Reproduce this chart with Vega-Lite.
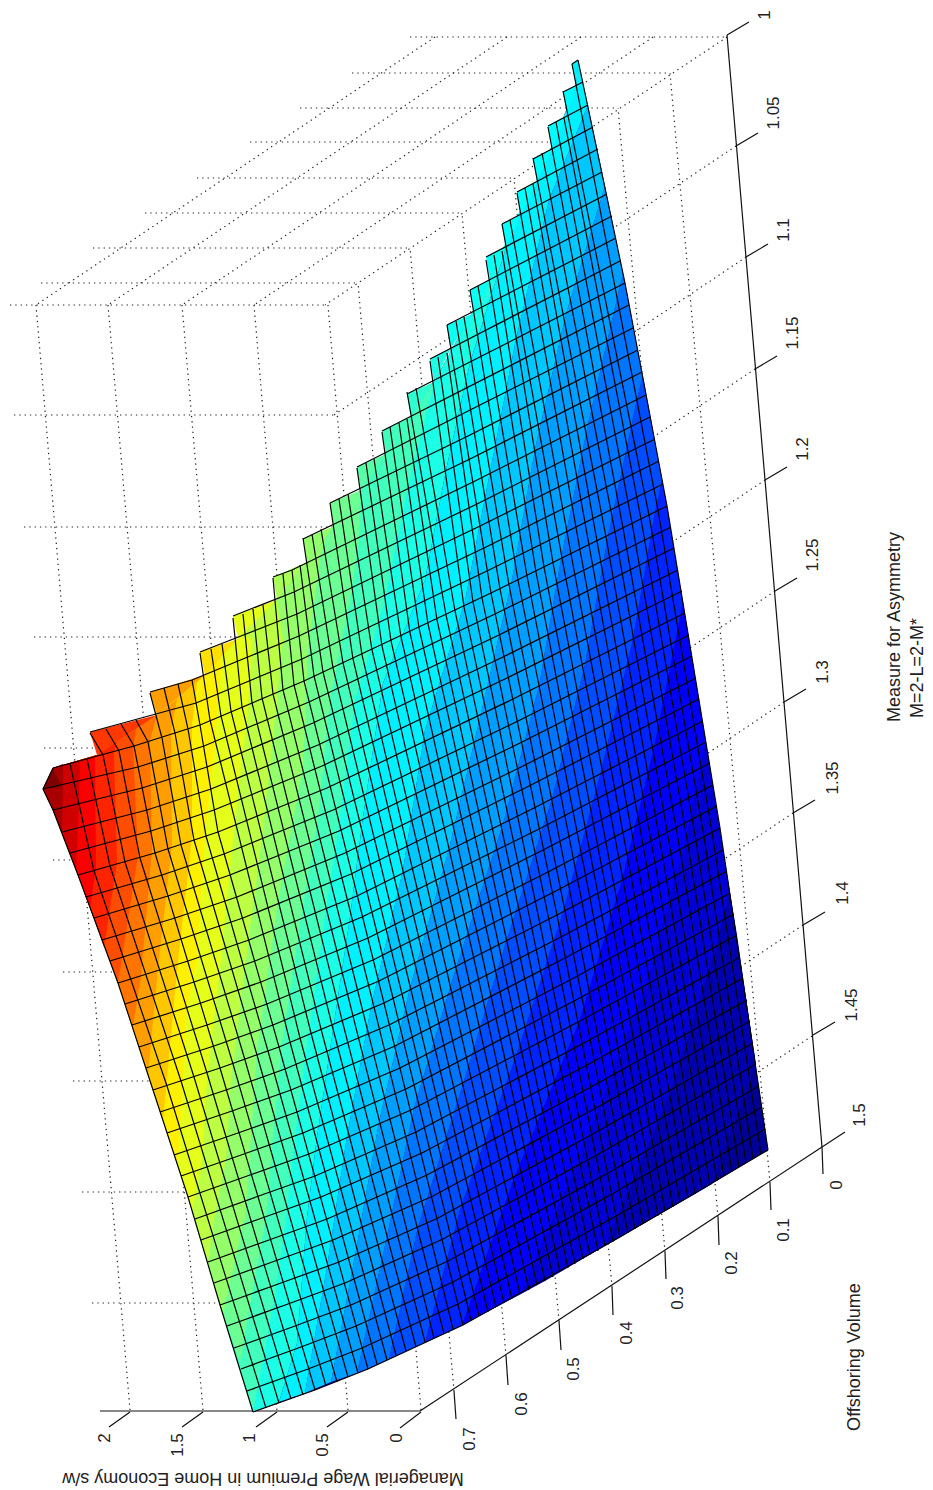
{"$schema":"https://vega.github.io/schema/vega-lite/v6.json","width":933,"height":1490,"padding":0,"autosize":"none","background":"white","config":{"view":{"stroke":null}},
"encoding":{"x":{"field":"x","type":"quantitative","axis":null,"scale":{"domain":[0,933],"range":[0,933]}},"y":{"field":"y","type":"quantitative","axis":null,"scale":{"domain":[0,1490],"range":[0,1490]}}},
"datasets":{
"dots":[
{"g":1,"x":410,"y":37},{"g":1,"x":727,"y":37},{"g":2,"x":352,"y":73},{"g":2,"x":670,"y":73},{"g":3,"x":300,"y":108},{"g":3,"x":618,"y":108},{"g":4,"x":250,"y":142},{"g":4,"x":568,"y":142},{"g":5,"x":197,"y":178},{"g":5,"x":514,"y":178},{"g":6,"x":145,"y":213},{"g":6,"x":462,"y":213},{"g":7,"x":93,"y":248},{"g":7,"x":410,"y":248},{"g":8,"x":41,"y":283},{"g":8,"x":358,"y":283},{"g":9,"x":10,"y":305},{"g":9,"x":325,"y":305},
{"g":10,"x":653,"y":37},{"g":10,"x":254,"y":305},{"g":11,"x":581,"y":37},{"g":11,"x":182,"y":305},{"g":12,"x":507,"y":37},{"g":12,"x":108,"y":305},{"g":13,"x":435,"y":37},{"g":13,"x":36,"y":305},
{"g":14,"x":328,"y":305},{"g":14,"x":421,"y":1410},{"g":15,"x":254,"y":305},{"g":15,"x":348,"y":1410},{"g":16,"x":182,"y":305},{"g":16,"x":277,"y":1410},{"g":17,"x":108,"y":305},{"g":17,"x":203,"y":1410},{"g":18,"x":36,"y":305},{"g":18,"x":130,"y":1410},
{"g":19,"x":14,"y":415},{"g":19,"x":334,"y":415},{"g":20,"x":24,"y":527},{"g":20,"x":344,"y":527},{"g":21,"x":34,"y":637},{"g":21,"x":354,"y":637},{"g":22,"x":44,"y":748},{"g":22,"x":364,"y":748},{"g":23,"x":53,"y":860},{"g":23,"x":373,"y":860},{"g":24,"x":63,"y":972},{"g":24,"x":383,"y":972},{"g":25,"x":73,"y":1081},{"g":25,"x":393,"y":1081},{"g":26,"x":82,"y":1192},{"g":26,"x":402,"y":1192},{"g":27,"x":92,"y":1303},{"g":27,"x":412,"y":1303},
{"g":28,"x":770,"y":1183},{"g":28,"x":670,"y":73},{"g":29,"x":718,"y":1217},{"g":29,"x":618,"y":108},{"g":30,"x":665,"y":1252},{"g":30,"x":568,"y":142},{"g":31,"x":612,"y":1287},{"g":31,"x":514,"y":178},{"g":32,"x":559,"y":1321},{"g":32,"x":462,"y":213},{"g":33,"x":506,"y":1356},{"g":33,"x":410,"y":248},{"g":34,"x":454,"y":1391},{"g":34,"x":358,"y":283},
{"g":35,"x":736,"y":146},{"g":35,"x":334,"y":415},{"g":36,"x":746,"y":257},{"g":36,"x":344,"y":527},{"g":37,"x":755,"y":369},{"g":37,"x":354,"y":637},{"g":38,"x":765,"y":480},{"g":38,"x":364,"y":748},{"g":39,"x":775,"y":591},{"g":39,"x":373,"y":860},{"g":40,"x":784,"y":702},{"g":40,"x":383,"y":972},{"g":41,"x":793,"y":813},{"g":41,"x":393,"y":1081},{"g":42,"x":803,"y":925},{"g":42,"x":402,"y":1192},{"g":43,"x":812,"y":1036},{"g":43,"x":412,"y":1303},{"g":44,"x":727,"y":37},{"g":44,"x":325,"y":305}],
"axes":[
{"g":1,"x":727,"y":35},{"g":1,"x":822,"y":1147},{"g":2,"x":822,"y":1147},{"g":2,"x":420,"y":1411},{"g":3,"x":420,"y":1411},{"g":3,"x":100,"y":1411},
{"g":4,"x":727,"y":35},{"g":4,"x":749,"y":22},{"g":5,"x":736,"y":146},{"g":5,"x":758,"y":133},{"g":6,"x":746,"y":257},{"g":6,"x":768,"y":244},{"g":7,"x":755,"y":369},{"g":7,"x":777,"y":356},{"g":8,"x":765,"y":480},{"g":8,"x":787,"y":467},{"g":9,"x":775,"y":591},{"g":9,"x":797,"y":578},{"g":10,"x":784,"y":702},{"g":10,"x":806,"y":689},{"g":11,"x":793,"y":813},{"g":11,"x":815,"y":800},{"g":12,"x":803,"y":925},{"g":12,"x":825,"y":912},{"g":13,"x":813,"y":1035},{"g":13,"x":835,"y":1022},{"g":14,"x":822,"y":1147},{"g":14,"x":845,"y":1132},
{"g":15,"x":822,"y":1147},{"g":15,"x":823,"y":1174},{"g":16,"x":770,"y":1183},{"g":16,"x":771,"y":1210},{"g":17,"x":718,"y":1217},{"g":17,"x":719,"y":1245},{"g":18,"x":665,"y":1252},{"g":18,"x":666,"y":1279},{"g":19,"x":612,"y":1287},{"g":19,"x":613,"y":1315},{"g":20,"x":559,"y":1321},{"g":20,"x":561,"y":1350},{"g":21,"x":506,"y":1356},{"g":21,"x":508,"y":1385},{"g":22,"x":454,"y":1391},{"g":22,"x":456,"y":1419},
{"g":23,"x":421,"y":1412},{"g":23,"x":400,"y":1428},{"g":24,"x":348,"y":1412},{"g":24,"x":327,"y":1427},{"g":25,"x":277,"y":1412},{"g":25,"x":256,"y":1427},{"g":26,"x":203,"y":1412},{"g":26,"x":182,"y":1427},{"g":27,"x":130,"y":1412},{"g":27,"x":109,"y":1427}],
"bands":[
{"c":"#000098","x":768,"y":1150},{"c":"#000098","x":737,"y":935},{"c":"#000098","x":667,"y":506},{"c":"#000098","x":625,"y":283},{"c":"#000098","x":602,"y":172},{"c":"#000098","x":578,"y":60},{"c":"#000098","x":576,"y":86},{"c":"#000098","x":537,"y":182},{"c":"#000098","x":490,"y":280},{"c":"#000098","x":434,"y":382},{"c":"#000098","x":361,"y":490},{"c":"#000098","x":307,"y":562},{"c":"#000098","x":277,"y":600},{"c":"#000098","x":238,"y":639},{"c":"#000098","x":205,"y":675},{"c":"#000098","x":157,"y":715},{"c":"#000098","x":97,"y":755},{"c":"#000098","x":53,"y":768},{"c":"#000098","x":43,"y":789},{"c":"#000098","x":53,"y":810},{"c":"#000098","x":78,"y":875},{"c":"#000098","x":118,"y":983},{"c":"#000098","x":153,"y":1090},{"c":"#000098","x":188,"y":1197},{"c":"#000098","x":220,"y":1305},{"c":"#000098","x":253,"y":1412},{"c":"#000098","x":315,"y":1390},{"c":"#000098","x":368,"y":1369},{"c":"#000098","x":463,"y":1325},{"c":"#000098","x":545,"y":1281},{"c":"#000098","x":620,"y":1237},{"c":"#000098","x":695,"y":1194},
{"c":"#0000B3","x":756,"y":1064},{"c":"#0000B3","x":712,"y":1184},{"c":"#0000B3","x":605,"y":1246},{"c":"#0000B3","x":671,"y":1090},{"c":"#0000B3","x":716,"y":947},{"c":"#0000B3","x":730,"y":893},
{"c":"#0000D7","x":730,"y":893},{"c":"#0000D7","x":716,"y":947},{"c":"#0000D7","x":671,"y":1090},{"c":"#0000D7","x":605,"y":1246},{"c":"#0000D7","x":521,"y":1294},{"c":"#0000D7","x":588,"y":1137},{"c":"#0000D7","x":646,"y":985},{"c":"#0000D7","x":684,"y":847},{"c":"#0000D7","x":706,"y":742},
{"c":"#0000FA","x":706,"y":742},{"c":"#0000FA","x":684,"y":847},{"c":"#0000FA","x":646,"y":985},{"c":"#0000FA","x":588,"y":1137},{"c":"#0000FA","x":521,"y":1294},{"c":"#0000FA","x":462,"y":1325},{"c":"#0000FA","x":514,"y":1178},{"c":"#0000FA","x":579,"y":1022},{"c":"#0000FA","x":622,"y":880},{"c":"#0000FA","x":654,"y":747},{"c":"#0000FA","x":683,"y":602},
{"c":"#0024FF","x":683,"y":602},{"c":"#0024FF","x":654,"y":747},{"c":"#0024FF","x":622,"y":880},{"c":"#0024FF","x":579,"y":1022},{"c":"#0024FF","x":514,"y":1178},{"c":"#0024FF","x":462,"y":1325},{"c":"#0024FF","x":425,"y":1342},{"c":"#0024FF","x":461,"y":1206},{"c":"#0024FF","x":516,"y":1056},{"c":"#0024FF","x":563,"y":912},{"c":"#0024FF","x":600,"y":775},{"c":"#0024FF","x":633,"y":639},{"c":"#0024FF","x":655,"y":512},{"c":"#0024FF","x":662,"y":480},
{"c":"#004DFF","x":662,"y":480},{"c":"#004DFF","x":655,"y":512},{"c":"#004DFF","x":633,"y":639},{"c":"#004DFF","x":600,"y":775},{"c":"#004DFF","x":563,"y":912},{"c":"#004DFF","x":516,"y":1056},{"c":"#004DFF","x":461,"y":1206},{"c":"#004DFF","x":425,"y":1342},{"c":"#004DFF","x":389,"y":1359},{"c":"#004DFF","x":418,"y":1227},{"c":"#004DFF","x":463,"y":1084},{"c":"#004DFF","x":506,"y":942},{"c":"#004DFF","x":552,"y":799},{"c":"#004DFF","x":585,"y":664},{"c":"#004DFF","x":608,"y":536},{"c":"#004DFF","x":637,"y":399},{"c":"#004DFF","x":643,"y":376},
{"c":"#0075FF","x":643,"y":376},{"c":"#0075FF","x":637,"y":399},{"c":"#0075FF","x":608,"y":536},{"c":"#0075FF","x":585,"y":664},{"c":"#0075FF","x":552,"y":799},{"c":"#0075FF","x":506,"y":942},{"c":"#0075FF","x":463,"y":1084},{"c":"#0075FF","x":418,"y":1227},{"c":"#0075FF","x":389,"y":1359},{"c":"#0075FF","x":357,"y":1373},{"c":"#0075FF","x":386,"y":1241},{"c":"#0075FF","x":414,"y":1108},{"c":"#0075FF","x":456,"y":968},{"c":"#0075FF","x":503,"y":824},{"c":"#0075FF","x":539,"y":686},{"c":"#0075FF","x":561,"y":559},{"c":"#0075FF","x":588,"y":424},{"c":"#0075FF","x":620,"y":286},{"c":"#0075FF","x":623,"y":275},
{"c":"#009EFF","x":623,"y":275},{"c":"#009EFF","x":620,"y":286},{"c":"#009EFF","x":588,"y":424},{"c":"#009EFF","x":561,"y":559},{"c":"#009EFF","x":539,"y":686},{"c":"#009EFF","x":503,"y":824},{"c":"#009EFF","x":456,"y":968},{"c":"#009EFF","x":414,"y":1108},{"c":"#009EFF","x":386,"y":1241},{"c":"#009EFF","x":357,"y":1373},{"c":"#009EFF","x":331,"y":1382},{"c":"#009EFF","x":355,"y":1256},{"c":"#009EFF","x":379,"y":1122},{"c":"#009EFF","x":410,"y":988},{"c":"#009EFF","x":449,"y":849},{"c":"#009EFF","x":482,"y":709},{"c":"#009EFF","x":512,"y":580},{"c":"#009EFF","x":535,"y":449},{"c":"#009EFF","x":566,"y":314},{"c":"#009EFF","x":605,"y":186},
{"c":"#00C7FF","x":605,"y":186},{"c":"#00C7FF","x":566,"y":314},{"c":"#00C7FF","x":535,"y":449},{"c":"#00C7FF","x":512,"y":580},{"c":"#00C7FF","x":482,"y":709},{"c":"#00C7FF","x":449,"y":849},{"c":"#00C7FF","x":410,"y":988},{"c":"#00C7FF","x":379,"y":1122},{"c":"#00C7FF","x":355,"y":1256},{"c":"#00C7FF","x":331,"y":1382},{"c":"#00C7FF","x":305,"y":1393},{"c":"#00C7FF","x":327,"y":1267},{"c":"#00C7FF","x":347,"y":1136},{"c":"#00C7FF","x":371,"y":1007},{"c":"#00C7FF","x":403,"y":870},{"c":"#00C7FF","x":425,"y":730},{"c":"#00C7FF","x":465,"y":601},{"c":"#00C7FF","x":490,"y":472},{"c":"#00C7FF","x":516,"y":339},{"c":"#00C7FF","x":549,"y":200},{"c":"#00C7FF","x":588,"y":105},
{"c":"#00F0FF","x":588,"y":105},{"c":"#00F0FF","x":549,"y":200},{"c":"#00F0FF","x":516,"y":339},{"c":"#00F0FF","x":490,"y":472},{"c":"#00F0FF","x":465,"y":601},{"c":"#00F0FF","x":425,"y":730},{"c":"#00F0FF","x":403,"y":870},{"c":"#00F0FF","x":371,"y":1007},{"c":"#00F0FF","x":347,"y":1136},{"c":"#00F0FF","x":327,"y":1267},{"c":"#00F0FF","x":305,"y":1393},{"c":"#00F0FF","x":279,"y":1402},{"c":"#00F0FF","x":297,"y":1343},{"c":"#00F0FF","x":307,"y":1217},{"c":"#00F0FF","x":317,"y":1137},{"c":"#00F0FF","x":330,"y":1050},{"c":"#00F0FF","x":350,"y":917},{"c":"#00F0FF","x":363,"y":817},{"c":"#00F0FF","x":383,"y":683},{"c":"#00F0FF","x":425,"y":580},{"c":"#00F0FF","x":446,"y":470},{"c":"#00F0FF","x":470,"y":363},{"c":"#00F0FF","x":515,"y":219},{"c":"#00F0FF","x":537,"y":182},{"c":"#00F0FF","x":576,"y":86},{"c":"#00F0FF","x":578,"y":60},
{"c":"#1AFFE6","x":515,"y":219},{"c":"#1AFFE6","x":490,"y":280},{"c":"#1AFFE6","x":434,"y":382},{"c":"#1AFFE6","x":361,"y":490},{"c":"#1AFFE6","x":307,"y":562},{"c":"#1AFFE6","x":277,"y":600},{"c":"#1AFFE6","x":238,"y":639},{"c":"#1AFFE6","x":205,"y":675},{"c":"#1AFFE6","x":157,"y":715},{"c":"#1AFFE6","x":97,"y":755},{"c":"#1AFFE6","x":53,"y":768},{"c":"#1AFFE6","x":43,"y":789},{"c":"#1AFFE6","x":53,"y":810},{"c":"#1AFFE6","x":78,"y":875},{"c":"#1AFFE6","x":118,"y":983},{"c":"#1AFFE6","x":153,"y":1090},{"c":"#1AFFE6","x":188,"y":1197},{"c":"#1AFFE6","x":220,"y":1305},{"c":"#1AFFE6","x":253,"y":1412},{"c":"#1AFFE6","x":279,"y":1402},{"c":"#1AFFE6","x":297,"y":1343},{"c":"#1AFFE6","x":307,"y":1217},{"c":"#1AFFE6","x":317,"y":1137},{"c":"#1AFFE6","x":330,"y":1050},{"c":"#1AFFE6","x":350,"y":917},{"c":"#1AFFE6","x":363,"y":817},{"c":"#1AFFE6","x":383,"y":683},{"c":"#1AFFE6","x":425,"y":580},{"c":"#1AFFE6","x":446,"y":470},{"c":"#1AFFE6","x":470,"y":363},
{"c":"#42FFBD","x":434,"y":382},{"c":"#42FFBD","x":361,"y":490},{"c":"#42FFBD","x":307,"y":562},{"c":"#42FFBD","x":277,"y":600},{"c":"#42FFBD","x":238,"y":639},{"c":"#42FFBD","x":205,"y":675},{"c":"#42FFBD","x":157,"y":715},{"c":"#42FFBD","x":97,"y":755},{"c":"#42FFBD","x":53,"y":768},{"c":"#42FFBD","x":43,"y":789},{"c":"#42FFBD","x":53,"y":810},{"c":"#42FFBD","x":78,"y":875},{"c":"#42FFBD","x":118,"y":983},{"c":"#42FFBD","x":153,"y":1090},{"c":"#42FFBD","x":188,"y":1197},{"c":"#42FFBD","x":220,"y":1305},{"c":"#42FFBD","x":253,"y":1412},{"c":"#42FFBD","x":276,"y":1290},{"c":"#42FFBD","x":286,"y":1217},{"c":"#42FFBD","x":295,"y":1137},{"c":"#42FFBD","x":306,"y":1050},{"c":"#42FFBD","x":325,"y":917},{"c":"#42FFBD","x":340,"y":817},{"c":"#42FFBD","x":355,"y":700},{"c":"#42FFBD","x":385,"y":600},{"c":"#42FFBD","x":405,"y":500},
{"c":"#6BFF94","x":361,"y":490},{"c":"#6BFF94","x":307,"y":562},{"c":"#6BFF94","x":277,"y":600},{"c":"#6BFF94","x":238,"y":639},{"c":"#6BFF94","x":205,"y":675},{"c":"#6BFF94","x":157,"y":715},{"c":"#6BFF94","x":97,"y":755},{"c":"#6BFF94","x":53,"y":768},{"c":"#6BFF94","x":43,"y":789},{"c":"#6BFF94","x":53,"y":810},{"c":"#6BFF94","x":78,"y":875},{"c":"#6BFF94","x":118,"y":983},{"c":"#6BFF94","x":153,"y":1090},{"c":"#6BFF94","x":188,"y":1197},{"c":"#6BFF94","x":220,"y":1305},{"c":"#6BFF94","x":240,"y":1362},{"c":"#6BFF94","x":251,"y":1300},{"c":"#6BFF94","x":266,"y":1217},{"c":"#6BFF94","x":273,"y":1137},{"c":"#6BFF94","x":281,"y":1050},{"c":"#6BFF94","x":301,"y":917},{"c":"#6BFF94","x":318,"y":817},{"c":"#6BFF94","x":330,"y":700},{"c":"#6BFF94","x":350,"y":600},{"c":"#6BFF94","x":359,"y":539},
{"c":"#94FF6B","x":326,"y":538},{"c":"#94FF6B","x":307,"y":562},{"c":"#94FF6B","x":277,"y":600},{"c":"#94FF6B","x":238,"y":639},{"c":"#94FF6B","x":205,"y":675},{"c":"#94FF6B","x":157,"y":715},{"c":"#94FF6B","x":97,"y":755},{"c":"#94FF6B","x":53,"y":768},{"c":"#94FF6B","x":43,"y":789},{"c":"#94FF6B","x":53,"y":810},{"c":"#94FF6B","x":78,"y":875},{"c":"#94FF6B","x":118,"y":983},{"c":"#94FF6B","x":153,"y":1090},{"c":"#94FF6B","x":188,"y":1197},{"c":"#94FF6B","x":220,"y":1305},{"c":"#94FF6B","x":223,"y":1313},{"c":"#94FF6B","x":245,"y":1217},{"c":"#94FF6B","x":250,"y":1150},{"c":"#94FF6B","x":257,"y":1050},{"c":"#94FF6B","x":278,"y":900},{"c":"#94FF6B","x":303,"y":767},{"c":"#94FF6B","x":308,"y":650},{"c":"#94FF6B","x":320,"y":557},
{"c":"#BDFF42","x":277,"y":600},{"c":"#BDFF42","x":238,"y":639},{"c":"#BDFF42","x":205,"y":675},{"c":"#BDFF42","x":157,"y":715},{"c":"#BDFF42","x":97,"y":755},{"c":"#BDFF42","x":53,"y":768},{"c":"#BDFF42","x":43,"y":789},{"c":"#BDFF42","x":53,"y":810},{"c":"#BDFF42","x":78,"y":875},{"c":"#BDFF42","x":118,"y":983},{"c":"#BDFF42","x":153,"y":1090},{"c":"#BDFF42","x":188,"y":1197},{"c":"#BDFF42","x":208,"y":1262},{"c":"#BDFF42","x":215,"y":1215},{"c":"#BDFF42","x":226,"y":1160},{"c":"#BDFF42","x":231,"y":1080},{"c":"#BDFF42","x":246,"y":960},{"c":"#BDFF42","x":263,"y":830},{"c":"#BDFF42","x":277,"y":700},{"c":"#BDFF42","x":283,"y":640},
{"c":"#E6FF1A","x":243,"y":634},{"c":"#E6FF1A","x":205,"y":675},{"c":"#E6FF1A","x":157,"y":715},{"c":"#E6FF1A","x":97,"y":755},{"c":"#E6FF1A","x":53,"y":768},{"c":"#E6FF1A","x":43,"y":789},{"c":"#E6FF1A","x":53,"y":810},{"c":"#E6FF1A","x":78,"y":875},{"c":"#E6FF1A","x":118,"y":983},{"c":"#E6FF1A","x":153,"y":1090},{"c":"#E6FF1A","x":188,"y":1197},{"c":"#E6FF1A","x":192,"y":1210},{"c":"#E6FF1A","x":202,"y":1160},{"c":"#E6FF1A","x":207,"y":1080},{"c":"#E6FF1A","x":221,"y":960},{"c":"#E6FF1A","x":234,"y":830},{"c":"#E6FF1A","x":249,"y":700},{"c":"#E6FF1A","x":252,"y":640},
{"c":"#FFF000","x":222,"y":657},{"c":"#FFF000","x":205,"y":675},{"c":"#FFF000","x":157,"y":715},{"c":"#FFF000","x":97,"y":755},{"c":"#FFF000","x":53,"y":768},{"c":"#FFF000","x":43,"y":789},{"c":"#FFF000","x":53,"y":810},{"c":"#FFF000","x":78,"y":875},{"c":"#FFF000","x":118,"y":983},{"c":"#FFF000","x":153,"y":1090},{"c":"#FFF000","x":178,"y":1166},{"c":"#FFF000","x":180,"y":1127},{"c":"#FFF000","x":183,"y":1083},{"c":"#FFF000","x":187,"y":1007},{"c":"#FFF000","x":197,"y":960},{"c":"#FFF000","x":205,"y":833},{"c":"#FFF000","x":213,"y":767},{"c":"#FFF000","x":217,"y":717},
{"c":"#FFC700","x":197,"y":682},{"c":"#FFC700","x":157,"y":715},{"c":"#FFC700","x":97,"y":755},{"c":"#FFC700","x":53,"y":768},{"c":"#FFC700","x":43,"y":789},{"c":"#FFC700","x":53,"y":810},{"c":"#FFC700","x":78,"y":875},{"c":"#FFC700","x":118,"y":983},{"c":"#FFC700","x":153,"y":1090},{"c":"#FFC700","x":163,"y":1120},{"c":"#FFC700","x":178,"y":961},{"c":"#FFC700","x":192,"y":837},{"c":"#FFC700","x":192,"y":725},
{"c":"#FF9E00","x":177,"y":699},{"c":"#FF9E00","x":157,"y":715},{"c":"#FF9E00","x":97,"y":755},{"c":"#FF9E00","x":53,"y":768},{"c":"#FF9E00","x":43,"y":789},{"c":"#FF9E00","x":53,"y":810},{"c":"#FF9E00","x":78,"y":875},{"c":"#FF9E00","x":118,"y":983},{"c":"#FF9E00","x":148,"y":1074},{"c":"#FF9E00","x":158,"y":968},{"c":"#FF9E00","x":172,"y":844},{"c":"#FF9E00","x":171,"y":732},
{"c":"#FF7500","x":157,"y":715},{"c":"#FF7500","x":97,"y":755},{"c":"#FF7500","x":53,"y":768},{"c":"#FF7500","x":43,"y":789},{"c":"#FF7500","x":53,"y":810},{"c":"#FF7500","x":78,"y":875},{"c":"#FF7500","x":118,"y":983},{"c":"#FF7500","x":133,"y":1027},{"c":"#FF7500","x":141,"y":976},{"c":"#FF7500","x":152,"y":850},{"c":"#FF7500","x":150,"y":740},
{"c":"#FF4D00","x":136,"y":729},{"c":"#FF4D00","x":97,"y":755},{"c":"#FF4D00","x":53,"y":768},{"c":"#FF4D00","x":43,"y":789},{"c":"#FF4D00","x":53,"y":810},{"c":"#FF4D00","x":78,"y":875},{"c":"#FF4D00","x":118,"y":983},{"c":"#FF4D00","x":138,"y":856},{"c":"#FF4D00","x":133,"y":747},
{"c":"#FF2400","x":117,"y":741},{"c":"#FF2400","x":97,"y":755},{"c":"#FF2400","x":53,"y":768},{"c":"#FF2400","x":43,"y":789},{"c":"#FF2400","x":53,"y":810},{"c":"#FF2400","x":78,"y":875},{"c":"#FF2400","x":104,"y":947},{"c":"#FF2400","x":117,"y":863},{"c":"#FF2400","x":114,"y":752},
{"c":"#FA0000","x":97,"y":755},{"c":"#FA0000","x":53,"y":768},{"c":"#FA0000","x":43,"y":789},{"c":"#FA0000","x":53,"y":810},{"c":"#FA0000","x":78,"y":875},{"c":"#FA0000","x":90,"y":908},{"c":"#FA0000","x":96,"y":869},{"c":"#FA0000","x":95,"y":757},
{"c":"#D10000","x":80,"y":760},{"c":"#D10000","x":53,"y":768},{"c":"#D10000","x":43,"y":789},{"c":"#D10000","x":53,"y":810},{"c":"#D10000","x":62,"y":832},{"c":"#D10000","x":70,"y":854},{"c":"#D10000","x":76,"y":870},{"c":"#D10000","x":79,"y":805},
{"c":"#A80000","x":63,"y":764},{"c":"#A80000","x":53,"y":768},{"c":"#A80000","x":43,"y":789},{"c":"#A80000","x":53,"y":810},{"c":"#A80000","x":62,"y":832},{"c":"#A80000","x":63,"y":786},
{"c":"#800000","x":53,"y":768},{"c":"#800000","x":43,"y":789},{"c":"#800000","x":62,"y":787}],
"teeth":[
{"g":0,"c":"#00F0FF","x":578,"y":60},{"g":0,"c":"#00F0FF","x":572,"y":64},{"g":0,"c":"#00F0FF","x":576,"y":86},
{"g":1,"c":"#00FAFF","x":576,"y":86},{"g":1,"c":"#00FAFF","x":563,"y":92},{"g":1,"c":"#00FAFF","x":567,"y":115},
{"g":2,"c":"#00FFFF","x":567,"y":115},{"g":2,"c":"#00FFFF","x":548,"y":126},{"g":2,"c":"#00FFFF","x":552,"y":149},
{"g":3,"c":"#00FFFF","x":552,"y":149},{"g":3,"c":"#00FFFF","x":533,"y":159},{"g":3,"c":"#00FFFF","x":537,"y":182},
{"g":4,"c":"#05FFFA","x":537,"y":182},{"g":4,"c":"#05FFFA","x":517,"y":192},{"g":4,"c":"#05FFFA","x":521,"y":215},
{"g":5,"c":"#05FFFA","x":521,"y":215},{"g":5,"c":"#05FFFA","x":502,"y":224},{"g":5,"c":"#05FFFA","x":506,"y":247},
{"g":6,"c":"#0AFFF5","x":506,"y":247},{"g":6,"c":"#0AFFF5","x":486,"y":257},{"g":6,"c":"#0AFFF5","x":490,"y":280},
{"g":7,"c":"#0CFFF3","x":490,"y":280},{"g":7,"c":"#0CFFF3","x":470,"y":290},{"g":7,"c":"#0CFFF3","x":474,"y":313},
{"g":8,"c":"#0FFFF0","x":474,"y":313},{"g":8,"c":"#0FFFF0","x":447,"y":325},{"g":8,"c":"#0FFFF0","x":451,"y":348},
{"g":9,"c":"#1AFFE6","x":451,"y":348},{"g":9,"c":"#1AFFE6","x":430,"y":359},{"g":9,"c":"#1AFFE6","x":434,"y":382},
{"g":10,"c":"#2EFFD1","x":434,"y":382},{"g":10,"c":"#2EFFD1","x":407,"y":394},{"g":10,"c":"#2EFFD1","x":411,"y":417},
{"g":11,"c":"#42FFBD","x":411,"y":417},{"g":11,"c":"#42FFBD","x":382,"y":431},{"g":11,"c":"#42FFBD","x":386,"y":454},
{"g":12,"c":"#57FFA8","x":386,"y":454},{"g":12,"c":"#57FFA8","x":357,"y":467},{"g":12,"c":"#57FFA8","x":361,"y":490},
{"g":13,"c":"#70FF8F","x":361,"y":490},{"g":13,"c":"#70FF8F","x":330,"y":503},{"g":13,"c":"#70FF8F","x":334,"y":526},
{"g":14,"c":"#94FF6B","x":334,"y":526},{"g":14,"c":"#94FF6B","x":303,"y":539},{"g":14,"c":"#94FF6B","x":307,"y":562},
{"g":15,"c":"#A8FF57","x":307,"y":562},{"g":15,"c":"#A8FF57","x":273,"y":577},{"g":15,"c":"#A8FF57","x":277,"y":600},
{"g":16,"c":"#E6FF1A","x":277,"y":600},{"g":16,"c":"#E6FF1A","x":233,"y":616},{"g":16,"c":"#E6FF1A","x":238,"y":639},
{"g":17,"c":"#FFE000","x":238,"y":639},{"g":17,"c":"#FFE000","x":200,"y":652},{"g":17,"c":"#FFE000","x":205,"y":675},
{"g":18,"c":"#FF9E00","x":205,"y":675},{"g":18,"c":"#FF9E00","x":150,"y":692},{"g":18,"c":"#FF9E00","x":157,"y":715},
{"g":19,"c":"#FF3800","x":157,"y":715},{"g":19,"c":"#FF3800","x":90,"y":732},{"g":19,"c":"#FF3800","x":97,"y":755}],
"grid":[
{"g":0,"x":578,"y":60},{"g":0,"x":572,"y":64},{"g":1,"x":583,"y":82},{"g":1,"x":563,"y":92},{"g":2,"x":588,"y":105},{"g":2,"x":548,"y":126},{"g":3,"x":593,"y":127},{"g":3,"x":533,"y":159},{"g":4,"x":598,"y":149},{"g":4,"x":517,"y":192},{"g":5,"x":602,"y":172},{"g":5,"x":502,"y":224},{"g":6,"x":607,"y":194},{"g":6,"x":486,"y":257},{"g":7,"x":612,"y":216},{"g":7,"x":470,"y":290},{"g":8,"x":616,"y":238},{"g":8,"x":447,"y":325},{"g":9,"x":620,"y":261},{"g":9,"x":430,"y":359},{"g":10,"x":625,"y":283},{"g":10,"x":407,"y":394},{"g":11,"x":629,"y":305},{"g":11,"x":382,"y":431},{"g":12,"x":633,"y":328},{"g":12,"x":357,"y":467},
{"g":13,"x":638,"y":350},{"g":13,"x":466,"y":437},{"g":13,"x":330,"y":503},{"g":14,"x":642,"y":372},{"g":14,"x":470,"y":459},{"g":14,"x":303,"y":539},{"g":15,"x":646,"y":395},{"g":15,"x":473,"y":482},{"g":15,"x":292,"y":570},{"g":15,"x":273,"y":577},{"g":16,"x":650,"y":417},{"g":16,"x":477,"y":504},{"g":16,"x":294,"y":592},{"g":16,"x":233,"y":616},{"g":17,"x":655,"y":439},{"g":17,"x":480,"y":526},{"g":17,"x":297,"y":614},{"g":17,"x":200,"y":652},{"g":18,"x":659,"y":461},{"g":18,"x":484,"y":548},{"g":18,"x":299,"y":636},{"g":18,"x":192,"y":680},{"g":18,"x":150,"y":692},{"g":19,"x":663,"y":484},{"g":19,"x":487,"y":571},{"g":19,"x":302,"y":659},{"g":19,"x":196,"y":703},{"g":19,"x":90,"y":732},{"g":20,"x":667,"y":506},{"g":20,"x":491,"y":593},{"g":20,"x":304,"y":681},{"g":20,"x":200,"y":725},{"g":20,"x":134,"y":746},{"g":20,"x":53,"y":768},
{"g":21,"x":671,"y":527},{"g":21,"x":495,"y":614},{"g":21,"x":309,"y":702},{"g":21,"x":204,"y":746},{"g":21,"x":138,"y":767},{"g":21,"x":43,"y":789},
{"g":22,"x":674,"y":548},{"g":22,"x":499,"y":635},{"g":22,"x":313,"y":723},{"g":22,"x":207,"y":767},{"g":22,"x":142,"y":788},{"g":22,"x":53,"y":810},
{"g":23,"x":678,"y":570},{"g":23,"x":503,"y":657},{"g":23,"x":318,"y":745},{"g":23,"x":211,"y":789},{"g":23,"x":147,"y":810},{"g":23,"x":62,"y":832},
{"g":24,"x":682,"y":591},{"g":24,"x":507,"y":678},{"g":24,"x":322,"y":766},{"g":24,"x":214,"y":810},{"g":24,"x":151,"y":831},{"g":24,"x":70,"y":853},
{"g":25,"x":685,"y":613},{"g":25,"x":511,"y":700},{"g":25,"x":327,"y":788},{"g":25,"x":218,"y":832},{"g":25,"x":155,"y":853},{"g":25,"x":78,"y":875},
{"g":26,"x":689,"y":635},{"g":26,"x":516,"y":722},{"g":26,"x":333,"y":810},{"g":26,"x":224,"y":854},{"g":26,"x":162,"y":875},{"g":26,"x":86,"y":897},
{"g":27,"x":692,"y":656},{"g":27,"x":520,"y":743},{"g":27,"x":339,"y":831},{"g":27,"x":230,"y":875},{"g":27,"x":168,"y":896},{"g":27,"x":94,"y":918},
{"g":28,"x":696,"y":678},{"g":28,"x":525,"y":765},{"g":28,"x":345,"y":853},{"g":28,"x":237,"y":897},{"g":28,"x":175,"y":918},{"g":28,"x":102,"y":940},
{"g":29,"x":699,"y":699},{"g":29,"x":529,"y":786},{"g":29,"x":351,"y":874},{"g":29,"x":243,"y":918},{"g":29,"x":181,"y":939},{"g":29,"x":110,"y":961},
{"g":30,"x":703,"y":721},{"g":30,"x":534,"y":808},{"g":30,"x":357,"y":896},{"g":30,"x":249,"y":940},{"g":30,"x":188,"y":961},{"g":30,"x":118,"y":983},
{"g":31,"x":706,"y":742},{"g":31,"x":539,"y":829},{"g":31,"x":362,"y":917},{"g":31,"x":255,"y":961},{"g":31,"x":194,"y":982},{"g":31,"x":125,"y":1004},
{"g":32,"x":710,"y":763},{"g":32,"x":543,"y":850},{"g":32,"x":368,"y":938},{"g":32,"x":261,"y":982},{"g":32,"x":201,"y":1003},{"g":32,"x":132,"y":1025},
{"g":33,"x":713,"y":785},{"g":33,"x":548,"y":872},{"g":33,"x":373,"y":960},{"g":33,"x":267,"y":1004},{"g":33,"x":207,"y":1025},{"g":33,"x":139,"y":1047},
{"g":34,"x":717,"y":806},{"g":34,"x":552,"y":893},{"g":34,"x":379,"y":981},{"g":34,"x":273,"y":1025},{"g":34,"x":214,"y":1046},{"g":34,"x":146,"y":1068},
{"g":35,"x":720,"y":828},{"g":35,"x":557,"y":915},{"g":35,"x":384,"y":1003},{"g":35,"x":279,"y":1047},{"g":35,"x":220,"y":1068},{"g":35,"x":153,"y":1090},
{"g":36,"x":723,"y":850},{"g":36,"x":561,"y":937},{"g":36,"x":389,"y":1025},{"g":36,"x":285,"y":1069},{"g":36,"x":226,"y":1090},{"g":36,"x":160,"y":1112},
{"g":37,"x":727,"y":871},{"g":37,"x":565,"y":958},{"g":37,"x":395,"y":1046},{"g":37,"x":291,"y":1090},{"g":37,"x":232,"y":1111},{"g":37,"x":167,"y":1133},
{"g":38,"x":730,"y":893},{"g":38,"x":570,"y":980},{"g":38,"x":400,"y":1068},{"g":38,"x":297,"y":1112},{"g":38,"x":238,"y":1133},{"g":38,"x":174,"y":1155},
{"g":39,"x":734,"y":914},{"g":39,"x":574,"y":1001},{"g":39,"x":406,"y":1089},{"g":39,"x":303,"y":1133},{"g":39,"x":244,"y":1154},{"g":39,"x":181,"y":1176},
{"g":40,"x":737,"y":935},{"g":40,"x":578,"y":1022},{"g":40,"x":411,"y":1110},{"g":40,"x":309,"y":1154},{"g":40,"x":250,"y":1175},{"g":40,"x":188,"y":1197},
{"g":41,"x":740,"y":957},{"g":41,"x":582,"y":1044},{"g":41,"x":416,"y":1132},{"g":41,"x":315,"y":1176},{"g":41,"x":256,"y":1197},{"g":41,"x":195,"y":1219},
{"g":42,"x":743,"y":978},{"g":42,"x":587,"y":1065},{"g":42,"x":422,"y":1153},{"g":42,"x":321,"y":1197},{"g":42,"x":262,"y":1218},{"g":42,"x":201,"y":1240},
{"g":43,"x":747,"y":1000},{"g":43,"x":591,"y":1087},{"g":43,"x":427,"y":1175},{"g":43,"x":327,"y":1219},{"g":43,"x":269,"y":1240},{"g":43,"x":208,"y":1262},
{"g":44,"x":750,"y":1021},{"g":44,"x":596,"y":1108},{"g":44,"x":433,"y":1196},{"g":44,"x":333,"y":1240},{"g":44,"x":275,"y":1261},{"g":44,"x":214,"y":1283},
{"g":45,"x":753,"y":1043},{"g":45,"x":600,"y":1130},{"g":45,"x":438,"y":1218},{"g":45,"x":339,"y":1262},{"g":45,"x":281,"y":1283},{"g":45,"x":220,"y":1305},
{"g":46,"x":756,"y":1064},{"g":46,"x":604,"y":1151},{"g":46,"x":443,"y":1239},{"g":46,"x":345,"y":1283},{"g":46,"x":288,"y":1304},{"g":46,"x":227,"y":1326},
{"g":47,"x":759,"y":1086},{"g":47,"x":608,"y":1173},{"g":47,"x":448,"y":1261},{"g":47,"x":351,"y":1305},{"g":47,"x":295,"y":1326},{"g":47,"x":234,"y":1348},
{"g":48,"x":762,"y":1107},{"g":48,"x":612,"y":1194},{"g":48,"x":453,"y":1282},{"g":48,"x":356,"y":1326},{"g":48,"x":301,"y":1347},{"g":48,"x":241,"y":1369},
{"g":49,"x":765,"y":1129},{"g":49,"x":616,"y":1216},{"g":49,"x":458,"y":1304},{"g":49,"x":362,"y":1348},{"g":49,"x":308,"y":1369},{"g":49,"x":247,"y":1391},
{"g":50,"x":768,"y":1150},{"g":50,"x":620,"y":1237},{"g":50,"x":463,"y":1325},{"g":50,"x":368,"y":1369},{"g":50,"x":315,"y":1390},{"g":50,"x":253,"y":1412},
{"g":100,"x":578,"y":60},{"g":100,"x":625,"y":283},{"g":100,"x":667,"y":506},{"g":100,"x":720,"y":828},{"g":100,"x":768,"y":1150},
{"g":101,"x":572,"y":64},{"g":101,"x":658,"y":510},{"g":101,"x":712,"y":832},{"g":101,"x":761,"y":1154},
{"g":102,"x":563,"y":91},{"g":102,"x":649,"y":515},{"g":102,"x":704,"y":837},{"g":102,"x":753,"y":1159},
{"g":103,"x":564,"y":118},{"g":103,"x":641,"y":519},{"g":103,"x":696,"y":841},{"g":103,"x":746,"y":1163},
{"g":104,"x":556,"y":122},{"g":104,"x":632,"y":523},{"g":104,"x":688,"y":845},{"g":104,"x":739,"y":1167},
{"g":105,"x":548,"y":127},{"g":105,"x":623,"y":528},{"g":105,"x":680,"y":850},{"g":105,"x":732,"y":1172},
{"g":106,"x":542,"y":153},{"g":106,"x":615,"y":532},{"g":106,"x":671,"y":854},{"g":106,"x":724,"y":1176},
{"g":107,"x":533,"y":158},{"g":107,"x":606,"y":537},{"g":107,"x":663,"y":859},{"g":107,"x":717,"y":1181},
{"g":108,"x":533,"y":184},{"g":108,"x":597,"y":541},{"g":108,"x":655,"y":863},{"g":108,"x":710,"y":1185},
{"g":109,"x":525,"y":188},{"g":109,"x":589,"y":545},{"g":109,"x":647,"y":867},{"g":109,"x":702,"y":1189},
{"g":110,"x":517,"y":193},{"g":110,"x":580,"y":550},{"g":110,"x":639,"y":872},{"g":110,"x":695,"y":1194},
{"g":111,"x":510,"y":220},{"g":111,"x":571,"y":554},{"g":111,"x":631,"y":876},{"g":111,"x":688,"y":1198},
{"g":112,"x":502,"y":224},{"g":112,"x":562,"y":558},{"g":112,"x":623,"y":880},{"g":112,"x":680,"y":1202},
{"g":113,"x":502,"y":251},{"g":113,"x":553,"y":563},{"g":113,"x":614,"y":885},{"g":113,"x":673,"y":1207},
{"g":114,"x":494,"y":255},{"g":114,"x":544,"y":567},{"g":114,"x":606,"y":889},{"g":114,"x":665,"y":1211},
{"g":115,"x":486,"y":260},{"g":115,"x":536,"y":572},{"g":115,"x":598,"y":894},{"g":115,"x":658,"y":1216},
{"g":116,"x":478,"y":286},{"g":116,"x":527,"y":576},{"g":116,"x":590,"y":898},{"g":116,"x":650,"y":1220},
{"g":117,"x":470,"y":290},{"g":117,"x":518,"y":580},{"g":117,"x":582,"y":902},{"g":117,"x":643,"y":1224},
{"g":118,"x":464,"y":317},{"g":118,"x":509,"y":585},{"g":118,"x":573,"y":907},{"g":118,"x":635,"y":1229},
{"g":119,"x":456,"y":321},{"g":119,"x":500,"y":589},{"g":119,"x":565,"y":911},{"g":119,"x":628,"y":1233},
{"g":120,"x":447,"y":325},{"g":120,"x":491,"y":593},{"g":120,"x":557,"y":915},{"g":120,"x":620,"y":1237},
{"g":121,"x":447,"y":353},{"g":121,"x":482,"y":598},{"g":121,"x":549,"y":920},{"g":121,"x":613,"y":1242},
{"g":122,"x":438,"y":357},{"g":122,"x":473,"y":602},{"g":122,"x":540,"y":924},{"g":122,"x":605,"y":1246},
{"g":123,"x":430,"y":361},{"g":123,"x":464,"y":607},{"g":123,"x":532,"y":929},{"g":123,"x":598,"y":1251},
{"g":124,"x":416,"y":388},{"g":124,"x":455,"y":611},{"g":124,"x":524,"y":933},{"g":124,"x":590,"y":1255},
{"g":125,"x":407,"y":392},{"g":125,"x":446,"y":615},{"g":125,"x":516,"y":937},{"g":125,"x":583,"y":1259},
{"g":126,"x":407,"y":419},{"g":126,"x":437,"y":620},{"g":126,"x":507,"y":942},{"g":126,"x":575,"y":1264},
{"g":127,"x":399,"y":423},{"g":127,"x":428,"y":624},{"g":127,"x":499,"y":946},{"g":127,"x":568,"y":1268},
{"g":128,"x":390,"y":427},{"g":128,"x":419,"y":628},{"g":128,"x":491,"y":950},{"g":128,"x":560,"y":1272},
{"g":129,"x":382,"y":432},{"g":129,"x":410,"y":633},{"g":129,"x":482,"y":955},{"g":129,"x":553,"y":1277},
{"g":130,"x":374,"y":459},{"g":130,"x":401,"y":637},{"g":130,"x":474,"y":959},{"g":130,"x":545,"y":1281},
{"g":131,"x":366,"y":463},{"g":131,"x":391,"y":641},{"g":131,"x":465,"y":963},{"g":131,"x":537,"y":1285},
{"g":132,"x":357,"y":468},{"g":132,"x":382,"y":646},{"g":132,"x":456,"y":968},{"g":132,"x":529,"y":1290},
{"g":133,"x":348,"y":494},{"g":133,"x":372,"y":650},{"g":133,"x":447,"y":972},{"g":133,"x":520,"y":1294},
{"g":134,"x":339,"y":499},{"g":134,"x":362,"y":655},{"g":134,"x":438,"y":977},{"g":134,"x":512,"y":1299},
{"g":135,"x":330,"y":503},{"g":135,"x":353,"y":659},{"g":135,"x":429,"y":981},{"g":135,"x":504,"y":1303},
{"g":136,"x":321,"y":529},{"g":136,"x":343,"y":663},{"g":136,"x":420,"y":985},{"g":136,"x":496,"y":1307},
{"g":137,"x":312,"y":534},{"g":137,"x":333,"y":668},{"g":137,"x":411,"y":990},{"g":137,"x":488,"y":1312},
{"g":138,"x":303,"y":538},{"g":138,"x":323,"y":672},{"g":138,"x":402,"y":994},{"g":138,"x":479,"y":1316},
{"g":139,"x":300,"y":565},{"g":139,"x":314,"y":676},{"g":139,"x":393,"y":998},{"g":139,"x":471,"y":1320},
{"g":140,"x":292,"y":570},{"g":140,"x":304,"y":681},{"g":140,"x":384,"y":1003},{"g":140,"x":463,"y":1325},
{"g":141,"x":283,"y":574},{"g":141,"x":294,"y":685},{"g":141,"x":374,"y":1007},{"g":141,"x":453,"y":1329},
{"g":142,"x":273,"y":578},{"g":142,"x":283,"y":690},{"g":142,"x":363,"y":1012},{"g":142,"x":444,"y":1334},
{"g":143,"x":263,"y":605},{"g":143,"x":273,"y":694},{"g":143,"x":353,"y":1016},{"g":143,"x":434,"y":1338},
{"g":144,"x":253,"y":609},{"g":144,"x":262,"y":698},{"g":144,"x":342,"y":1020},{"g":144,"x":425,"y":1342},
{"g":145,"x":243,"y":614},{"g":145,"x":252,"y":703},{"g":145,"x":332,"y":1025},{"g":145,"x":416,"y":1347},
{"g":146,"x":233,"y":618},{"g":146,"x":242,"y":707},{"g":146,"x":321,"y":1029},{"g":146,"x":406,"y":1351},
{"g":147,"x":222,"y":644},{"g":147,"x":231,"y":711},{"g":147,"x":311,"y":1033},{"g":147,"x":396,"y":1355},
{"g":148,"x":211,"y":649},{"g":148,"x":221,"y":716},{"g":148,"x":300,"y":1038},{"g":148,"x":387,"y":1360},
{"g":149,"x":200,"y":653},{"g":149,"x":210,"y":720},{"g":149,"x":290,"y":1042},{"g":149,"x":377,"y":1364},
{"g":150,"x":192,"y":680},{"g":150,"x":200,"y":725},{"g":150,"x":218,"y":832},{"g":150,"x":279,"y":1047},{"g":150,"x":368,"y":1369},
{"g":151,"x":178,"y":684},{"g":151,"x":188,"y":729},{"g":151,"x":206,"y":836},{"g":151,"x":268,"y":1051},{"g":151,"x":358,"y":1373},
{"g":152,"x":164,"y":688},{"g":152,"x":175,"y":733},{"g":152,"x":194,"y":840},{"g":152,"x":257,"y":1055},{"g":152,"x":348,"y":1377},
{"g":153,"x":150,"y":693},{"g":153,"x":162,"y":738},{"g":153,"x":181,"y":845},{"g":153,"x":245,"y":1060},{"g":153,"x":337,"y":1382},
{"g":154,"x":136,"y":720},{"g":154,"x":148,"y":742},{"g":154,"x":168,"y":849},{"g":154,"x":233,"y":1064},{"g":154,"x":326,"y":1386},
{"g":155,"x":121,"y":724},{"g":155,"x":134,"y":746},{"g":155,"x":155,"y":853},{"g":155,"x":220,"y":1068},{"g":155,"x":315,"y":1390},
{"g":156,"x":106,"y":729},{"g":156,"x":119,"y":751},{"g":156,"x":140,"y":858},{"g":156,"x":207,"y":1073},{"g":156,"x":303,"y":1395},
{"g":157,"x":90,"y":733},{"g":157,"x":103,"y":755},{"g":157,"x":125,"y":862},{"g":157,"x":194,"y":1077},{"g":157,"x":291,"y":1399},
{"g":158,"x":87,"y":759},{"g":158,"x":110,"y":866},{"g":158,"x":181,"y":1081},{"g":158,"x":279,"y":1403},
{"g":159,"x":70,"y":764},{"g":159,"x":94,"y":871},{"g":159,"x":167,"y":1086},{"g":159,"x":266,"y":1408},
{"g":160,"x":53,"y":768},{"g":160,"x":43,"y":789},{"g":160,"x":53,"y":810},{"g":160,"x":78,"y":875},{"g":160,"x":118,"y":983},{"g":160,"x":153,"y":1090},{"g":160,"x":188,"y":1197},{"g":160,"x":220,"y":1305},{"g":160,"x":253,"y":1412}],
"labels":[
{"t":"1","x":765,"y":15,"a":270,"s":17},{"t":"1.05","x":774,"y":113,"a":270,"s":17},{"t":"1.1","x":784,"y":230,"a":270,"s":17},{"t":"1.15","x":793,"y":333,"a":270,"s":17},{"t":"1.2","x":803,"y":449,"a":270,"s":17},{"t":"1.25","x":813,"y":555,"a":270,"s":17},{"t":"1.3","x":823,"y":672,"a":270,"s":17},{"t":"1.35","x":833,"y":778,"a":270,"s":17},{"t":"1.4","x":843,"y":893,"a":270,"s":17},{"t":"1.45","x":852,"y":1005,"a":270,"s":17},{"t":"1.5","x":860,"y":1115,"a":270,"s":17},
{"t":"0","x":837,"y":1185,"a":270,"s":17},{"t":"0.1","x":784,"y":1230,"a":270,"s":17},{"t":"0.2","x":732,"y":1263,"a":270,"s":17},{"t":"0.3","x":678,"y":1298,"a":270,"s":17},{"t":"0.4","x":627,"y":1333,"a":270,"s":17},{"t":"0.5","x":574,"y":1369,"a":270,"s":17},{"t":"0.6","x":522,"y":1404,"a":270,"s":17},{"t":"0.7","x":470,"y":1439,"a":270,"s":17},
{"t":"0","x":397,"y":1438,"a":270,"s":17},{"t":"0.5","x":323,"y":1445,"a":270,"s":17},{"t":"1","x":250,"y":1438,"a":270,"s":17},{"t":"1.5","x":178,"y":1445,"a":270,"s":17},{"t":"2","x":105,"y":1438,"a":270,"s":17},
{"t":"Measure for Asymmetry","x":895,"y":627,"a":270,"s":18},{"t":"M=2-L=2-M*","x":918,"y":668,"a":270,"s":18},{"t":"Offshoring Volume","x":855,"y":1357,"a":270,"s":18},{"t":"Managerial Wage Premium in Home Economy s/w","x":263,"y":1478,"a":180,"s":18}]
},
"layer":[
{"data":{"name":"dots"},"transform":[{"window":[{"op":"row_number","as":"i"}]}],"mark":{"type":"line","color":"#222","strokeWidth":1.2,"strokeDash":[1.3,4]},"encoding":{"detail":{"field":"g"},"order":{"field":"i","type":"quantitative"}}},
{"data":{"name":"axes"},"transform":[{"window":[{"op":"row_number","as":"i"}]}],"mark":{"type":"line","color":"#111","strokeWidth":1.2},"encoding":{"detail":{"field":"g"},"order":{"field":"i","type":"quantitative"}}},
{"data":{"name":"bands"},"transform":[{"window":[{"op":"row_number","as":"i"}]}],"mark":{"type":"line","strokeWidth":0},"encoding":{"detail":{"field":"c"},"fill":{"field":"c","type":"nominal","scale":null},"order":{"field":"i","type":"quantitative"}}},
{"data":{"name":"teeth"},"transform":[{"window":[{"op":"row_number","as":"i"}]}],"mark":{"type":"line","strokeWidth":0},"encoding":{"detail":{"field":"g"},"fill":{"field":"c","type":"nominal","scale":null},"order":{"field":"i","type":"quantitative"}}},
{"data":{"name":"grid"},"transform":[{"window":[{"op":"row_number","as":"i"}]}],"mark":{"type":"line","color":"#000","strokeWidth":1.2},"encoding":{"detail":{"field":"g"},"order":{"field":"i","type":"quantitative"}}},
{"data":{"name":"labels"},"mark":{"type":"text","font":"Liberation Sans","color":"#222","align":"center","baseline":"middle"},"encoding":{"text":{"field":"t"},"size":{"field":"s","type":"quantitative","scale":null},"angle":{"field":"a","type":"quantitative","scale":null}}}
]}
